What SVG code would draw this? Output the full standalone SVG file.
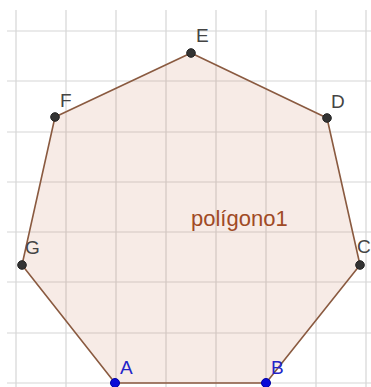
<svg xmlns="http://www.w3.org/2000/svg" width="371" height="387" viewBox="0 0 371 387">
<style>
.grid line{stroke:#d6d6d6;stroke-width:1.2}
.poly{fill:#c9744f;fill-opacity:0.14;stroke:#8a5a40;stroke-width:1.6;stroke-linejoin:round}
.pt{fill:#333;stroke:#222;stroke-width:1}
.bpt{fill:#0a0ad8;stroke:#0000a0;stroke-width:1}
.lbl{font-family:"Liberation Sans",Arial,sans-serif;font-size:19px;fill:#444}
.blbl{font-family:"Liberation Sans",Arial,sans-serif;font-size:19px;fill:#2424c8}
.plbl{font-family:"Liberation Sans",Arial,sans-serif;font-size:22px;fill:#a04a25}
</style>
<rect width="371" height="387" fill="#fff"/>
<g class="grid" id="grid">
<line x1="16" y1="10" x2="16" y2="387"/>
<line x1="66" y1="10" x2="66" y2="387"/>
<line x1="116" y1="10" x2="116" y2="387"/>
<line x1="166" y1="10" x2="166" y2="387"/>
<line x1="216" y1="10" x2="216" y2="387"/>
<line x1="266" y1="10" x2="266" y2="387"/>
<line x1="316" y1="10" x2="316" y2="387"/>
<line x1="366" y1="10" x2="366" y2="387"/>
<line x1="7" y1="31" x2="371" y2="31"/>
<line x1="7" y1="81" x2="371" y2="81"/>
<line x1="7" y1="132" x2="371" y2="132"/>
<line x1="7" y1="182" x2="371" y2="182"/>
<line x1="7" y1="232" x2="371" y2="232"/>
<line x1="7" y1="282" x2="371" y2="282"/>
<line x1="7" y1="333" x2="371" y2="333"/>
<line x1="7" y1="383" x2="371" y2="383"/>
</g>
<g id="poligono1">
<polygon class="poly" points="115,383 266,383 360,265 327,118 191,53 55,117 22,265"/>
<text class="plbl" x="191" y="226">polígono1</text>
</g>
<g id="E"><circle class="pt" cx="191" cy="53" r="4.3"/><text class="lbl" x="196" y="42">E</text></g>
<g id="F"><circle class="pt" cx="55" cy="117" r="4.3"/><text class="lbl" x="60" y="107">F</text></g>
<g id="D"><circle class="pt" cx="327" cy="118" r="4.3"/><text class="lbl" x="331" y="108">D</text></g>
<g id="G"><circle class="pt" cx="22" cy="265" r="4.3"/><text class="lbl" x="25" y="254">G</text></g>
<g id="C"><circle class="pt" cx="360" cy="265" r="4.3"/><text class="lbl" x="357" y="253">C</text></g>
<g id="A"><circle class="bpt" cx="115" cy="383" r="4.5"/><text class="blbl" x="120" y="374">A</text></g>
<g id="B"><circle class="bpt" cx="266" cy="383" r="4.5"/><text class="blbl" x="271" y="374">B</text></g>
</svg>
